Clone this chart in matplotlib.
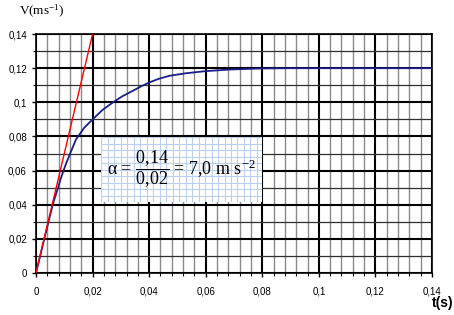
import numpy as np
import matplotlib.pyplot as plt
from matplotlib.ticker import MultipleLocator, FixedLocator

# speed curve (t in s, v in m/s)
t_vals = [0, 0.003, 0.006, 0.0075, 0.00883, 0.0105, 0.0122, 0.01413, 0.0170, 0.02003,
          0.0235, 0.0271, 0.0305, 0.0342, 0.0370, 0.0400, 0.0435, 0.0471, 0.0530,
          0.0597, 0.0685, 0.0790, 0.0900, 0.14]
v_vals = [0, 0.0205, 0.0405, 0.0485, 0.0557, 0.0635, 0.0705, 0.0782, 0.0850, 0.0900,
          0.0955, 0.0998, 0.1035, 0.1067, 0.1092, 0.1116, 0.1138, 0.1155, 0.1170,
          0.1182, 0.1192, 0.1198, 0.1200, 0.1200]

# tangent at origin
tan_t = [0, 0.02]
tan_v = [0, 0.14]

ticks = [0, 0.02, 0.04, 0.06, 0.08, 0.1, 0.12, 0.14]
tick_labels = ['0', '0,02', '0,04', '0,06', '0,08', '0,1', '0,12', '0,14']

plt.rcParams['font.family'] = ['Liberation Sans', 'DejaVu Sans']
plt.rcParams['mathtext.fontset'] = 'custom'
plt.rcParams['mathtext.rm'] = 'Liberation Serif'
plt.rcParams['mathtext.it'] = 'Liberation Serif'

fig = plt.figure(figsize=(4.54, 3.15), dpi=100)
ax = fig.add_axes([36/454, 42/315, 396/454, 239/315])

ax.set_xlim(0, 0.14)
ax.set_ylim(0, 0.14)
ax.xaxis.set_major_locator(FixedLocator(ticks))
ax.yaxis.set_major_locator(FixedLocator(ticks))
ax.xaxis.set_minor_locator(MultipleLocator(0.004))
ax.yaxis.set_minor_locator(MultipleLocator(0.01))
ax.set_xticklabels(tick_labels)
ax.set_yticklabels(tick_labels)
ax.tick_params(which='major', direction='out', length=3, width=1, labelsize=7, colors='black')
ax.tick_params(which='minor', direction='out', length=2, width=0.8)
ax.tick_params(axis='x', pad=7)
ax.grid(axis='x', which='minor', color='#8a8a8a', lw=1)
ax.grid(axis='y', which='minor', color='#303030', lw=0.9)
ax.grid(which='major', color='black', lw=1.5)
ax.set_axisbelow(True)
for s in ax.spines.values():
    s.set_linewidth(1.2)

ax.plot(t_vals, v_vals, color='#1c1c8a', lw=1.3, zorder=3)
ax.plot(tan_t, tan_v, color='red', lw=1, zorder=4)

# formula box with light blue squared paper background
box = fig.add_axes([101/454, (315-202)/315, 161/454, 65/315])
box.set_facecolor('white')
box.set_xlim(0, 161)
box.set_ylim(0, 65)
box.xaxis.set_major_locator(MultipleLocator(6.5))
box.yaxis.set_major_locator(MultipleLocator(6.5))
box.grid(color='#bcd0ee', lw=0.8)
box.tick_params(length=0, labelbottom=False, labelleft=False)
for s in box.spines.values():
    s.set_visible(False)
box.text(0.5, 0.5, r'α = $\dfrac{0{,}14}{0{,}02}$ = 7,0 m s$^{-2}$',
         transform=box.transAxes, ha='center', va='center', fontsize=13,
         family='Liberation Serif')

fig.text(19/454, 1 - 11/315, r'V(ms$^{-1}$)', fontsize=9.5, va='center', ha='left',
         family='Liberation Serif')
fig.text(453/454, 1 - 303/315, 't(s)', fontsize=10, fontweight='bold', ha='right', va='center')

plt.savefig('out.png', dpi=100)
